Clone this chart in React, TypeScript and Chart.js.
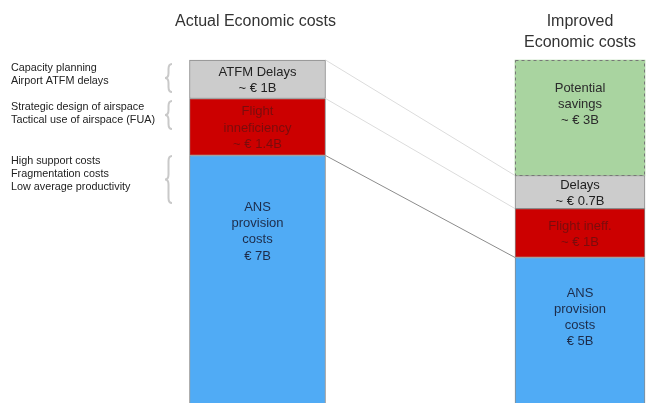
import React, { useEffect, useRef } from "react";
import { Chart, registerables } from "chart.js";
Chart.register(...registerables);

// ---- data (values in € B, as drawn) ----
const columnTitles = [["Actual Economic costs"], ["Improved", "Economic costs"]];
const segmentNames = ["ANS provision costs", "Flight inefficiency", "Delays", "Potential savings"];
const actualValues: (number | null)[] = [7.0, 1.48, 1.0, null];
const improvedValues: (number | null)[] = [4.35, 1.27, 0.86, 3.0];
const actualLabels = [["ANS", "provision", "costs", "€ 7B"], ["Flight", "inneficiency", "~ € 1.4B"], ["ATFM Delays", "~ € 1B"], []];
const improvedLabels = [["ANS", "provision", "costs", "€ 5B"], ["Flight ineff.", "~ € 1B"], ["Delays", "~ € 0.7B"], ["Potential", "savings", "~ € 3B"]];
const annotationGroups = [
  ["Capacity planning", "Airport ATFM delays"],
  ["Strategic design of airspace", "Tactical use of airspace (FUA)"],
  ["High support costs", "Fragmentation costs", "Low average productivity"],
];

// ---- styles ----
const FONT = '"Liberation Sans", Arial, Helvetica, sans-serif';
const fillColors = ["#50abf5", "#cc0000", "#cccccc", "#a9d4a0"];
const textColors = ["#1d2c4a", "#7a0c0c", "#222222", "#2b2b2b"];
const barWidths = [136, 130];
// first-line offset from segment top (null = vertically centred)
const actualLabelTop: (number | null)[] = [52, null, null, null];
const improvedLabelTop: (number | null)[] = [35.5, null, null, 28.5];
const annotationFirstLineY = [68, 107, 161.5];
const annotationLineH = 13;
const braceRanges = [[64, 92], [101, 129], [156, 203]];

const overlay = {
  id: "overlay",
  afterDatasetsDraw(chart: any) {
    const ctx = chart.ctx as CanvasRenderingContext2D;
    const segs: any[][] = [[], []];
    chart.data.datasets.forEach((ds: any, di: number) => {
      const meta = chart.getDatasetMeta(di);
      const col = ds._col;
      const el = meta.data[col];
      if (!el) return;
      const p = el.getProps(["x", "y", "base", "width"], true);
      segs[col][ds._seg] = { ...p, left: p.x - p.width / 2, right: p.x + p.width / 2, top: Math.min(p.y, p.base), bottom: Math.max(p.y, p.base) };
    });
    const L = segs[0], R = segs[1];
    ctx.save();
    // connector lines
    const conns = [
      [L[2].top, R[2].top, "#dcdcdc"],
      [L[1].top, R[1].top, "#dcdcdc"],
      [L[0].top, R[0].top, "#8c8c8c"],
    ];
    conns.forEach(([y1, y2, c]: any) => {
      ctx.beginPath();
      ctx.strokeStyle = c;
      ctx.lineWidth = 1;
      ctx.moveTo(L[0].right, y1);
      ctx.lineTo(R[0].left, y2);
      ctx.stroke();
    });
    // dashed border of savings
    const g = R[3];
    if (g) {
      ctx.beginPath();
      ctx.setLineDash([3, 3]);
      ctx.strokeStyle = "#777777";
      ctx.lineWidth = 1;
      ctx.strokeRect(Math.round(g.left) + 0.5, Math.round(g.top) + 0.5, Math.round(g.right - g.left) - 1, Math.round(g.bottom - g.top));
      ctx.setLineDash([]);
    }
    // segment labels
    ctx.font = `13px ${FONT}`;
    ctx.textAlign = "center";
    ctx.textBaseline = "middle";
    const lh = 16.2;
    const drawLabels = (S: any[], labels: string[][], tops: (number | null)[]) => {
      labels.forEach((lines, i) => {
        const s = S[i];
        if (!s || !lines.length) return;
        let y0: number;
        if (tops[i] == null) y0 = (s.top + s.bottom) / 2 - ((lines.length - 1) * lh) / 2 + 1;
        else y0 = s.top + (tops[i] as number);
        ctx.fillStyle = textColors[i];
        lines.forEach((t, k) => ctx.fillText(t, s.x, y0 + k * lh));
      });
    };
    drawLabels(L, actualLabels, actualLabelTop);
    drawLabels(R, improvedLabels, improvedLabelTop);
    // column titles
    ctx.font = `16px ${FONT}`;
    ctx.fillStyle = "#333333";
    columnTitles.forEach((lines, col) => {
      const x = segs[col][0].x - (col === 0 ? 2 : 0);
      lines.forEach((t, k) => ctx.fillText(t, x, 22 + k * 20.5));
    });
    // annotations
    ctx.font = `10.8px ${FONT}`;
    ctx.textAlign = "left";
    ctx.fillStyle = "#222222";
    annotationGroups.forEach((lines, gi) => {
      lines.forEach((t, k) => ctx.fillText(t, 11, annotationFirstLineY[gi] + k * annotationLineH));
    });
    // braces
    ctx.strokeStyle = "#c9c9c9";
    ctx.lineWidth = 2;
    braceRanges.forEach(([y1, y2]) => {
      const x = 165, w = 7, r = 5, xm = x + w / 2, ym = (y1 + y2) / 2;
      ctx.beginPath();
      ctx.moveTo(x + w, y1);
      ctx.quadraticCurveTo(xm, y1, xm, y1 + r);
      ctx.lineTo(xm, ym - r);
      ctx.quadraticCurveTo(xm, ym, x, ym);
      ctx.quadraticCurveTo(xm, ym, xm, ym + r);
      ctx.lineTo(xm, y2 - r);
      ctx.quadraticCurveTo(xm, y2, x + w, y2);
      ctx.stroke();
    });
    ctx.restore();
  },
};

export default function App() {
  const ref = useRef<HTMLCanvasElement | null>(null);
  useEffect(() => {
    if (!ref.current) return;
    const datasets: any[] = [];
    segmentNames.forEach((name, i) => {
      [actualValues, improvedValues].forEach((vals, col) => {
        const v = vals[i];
        if (v == null) return;
        const data = col === 0 ? [v, null] : [null, v];
        datasets.push({
          label: name,
          data,
          _col: col,
          _seg: i,
          backgroundColor: fillColors[i],
          borderColor: "#8a8a8a",
          borderWidth: i === 3 ? 0 : 1,
          borderSkipped: false,
          barThickness: barWidths[col],
          clip: false,
        });
      });
    });
    const chart = new Chart(ref.current, {
      type: "bar",
      data: { labels: columnTitles.map((t) => t.join(" ")), datasets },
      options: {
        animation: false,
        responsive: true,
        maintainAspectRatio: false,
        layout: { padding: { left: 257.5, right: 66, top: 60, bottom: 0 } },
        plugins: { legend: { display: false }, tooltip: { enabled: false }, title: { display: false } },
        scales: {
          x: { type: "category", stacked: true, offset: false, display: false },
          y: { type: "linear", stacked: true, min: 0.57, max: 9.48, display: false },
        },
      },
      plugins: [overlay],
    } as any);
    return () => chart.destroy();
  }, []);
  return (
    <div style={{ position: "fixed", left: 0, top: 0, width: 646, height: 403, background: "#fff" }}>
      <canvas ref={ref} />
    </div>
  );
}
